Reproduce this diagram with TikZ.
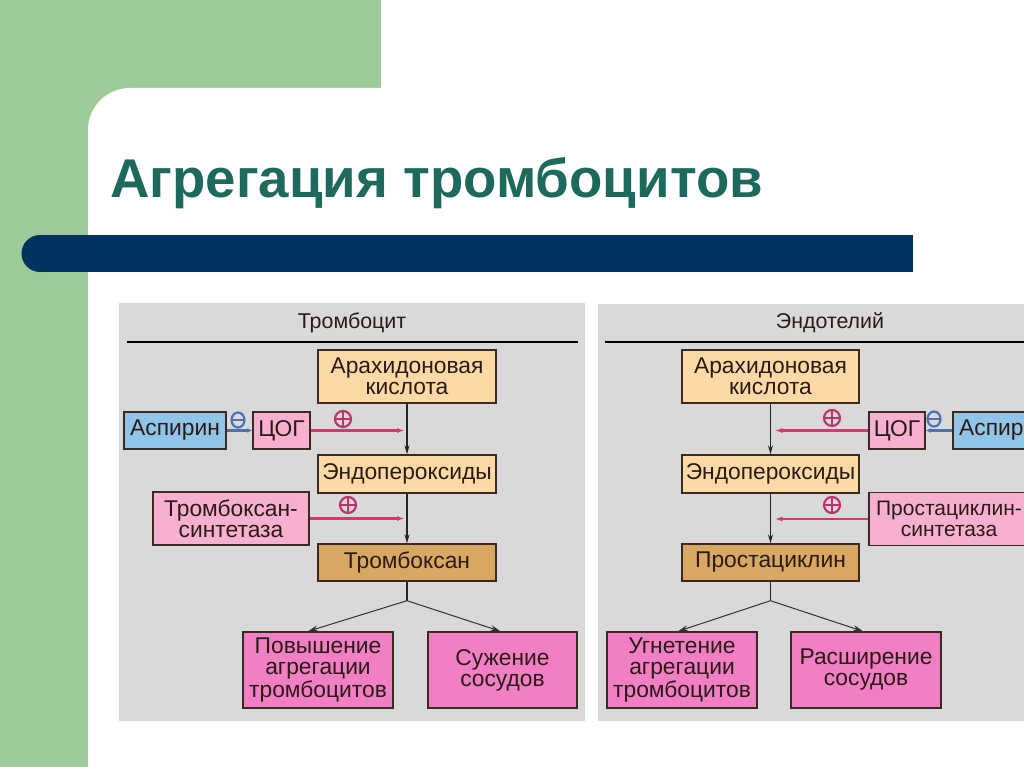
\documentclass[tikz,border=0pt]{standalone}
\usepackage{fontspec}
\setmainfont{Liberation Sans}
\usetikzlibrary{arrows.meta,calc,shapes.geometric}
\definecolor{greenbg}{HTML}{9CCB98}
\definecolor{titlec}{HTML}{1D6A5C}
\definecolor{navy}{HTML}{00335F}
\definecolor{panel}{HTML}{D9D9D9}
\definecolor{peach}{HTML}{FDD9A5}
\definecolor{tan}{HTML}{D8A762}
\definecolor{blueb}{HTML}{90C4E9}
\definecolor{pinkl}{HTML}{F7B0D0}
\definecolor{pinkh}{HTML}{F27EC3}
\definecolor{redc}{HTML}{D03A70}
\definecolor{plusc}{HTML}{C2336E}
\definecolor{minusc}{HTML}{4C72B4}
\definecolor{boxline}{HTML}{3A2A22}
\definecolor{txt}{HTML}{2B1B17}
\tikzset{
  box/.style={draw=boxline, line width=1.4pt, align=center, inner sep=0pt,
    font=\fontsize{22.8}{21}\selectfont, text=txt},
  header/.style={font=\fontsize{21.4}{23}\selectfont, text=txt, inner sep=0pt},
  blackarrow/.style={draw=black!85, line width=1.2pt, -{Stealth[length=9pt,width=5pt]}},
  thinarrow/.style={draw=black!80, line width=1pt, -{Stealth[length=10pt,width=6pt]}},
  redarrow/.style={draw=redc, line width=2.6pt, -{Latex[length=8pt,width=5pt]}},
  bluearrow/.style={draw=minusc, line width=2.4pt, -{Latex[length=5pt,width=5pt]}},
  plussign/.style={circle, draw=plusc, line width=2.2pt, minimum size=16pt, inner sep=0pt,
    path picture={\draw[plusc, line width=2.2pt]
      (path picture bounding box.north) -- (path picture bounding box.south)
      (path picture bounding box.west) -- (path picture bounding box.east);}},
  minussign/.style={ellipse, draw=minusc, line width=2.2pt, minimum width=13pt, minimum height=15pt, inner sep=0pt,
    path picture={\draw[minusc, line width=2.2pt]
      (path picture bounding box.west) -- (path picture bounding box.east);}},
}
\begin{document}
\begin{tikzpicture}[x=1pt,y=-1pt]
\useasboundingbox (0,0) rectangle (1024,767);
\begin{scope}
\clip (0,0) rectangle (1024,767);
% background
\fill[white] (0,0) rectangle (1024,767);
\fill[greenbg] (0,0) rectangle (381,140);
\fill[greenbg] (0,0) rectangle (88,767);
\fill[white] (88,800) [rounded corners=42pt] -- (88,88) -- (1060,88) [sharp corners] -- (1060,800) -- cycle;
% title
\node[anchor=base west, inner sep=0pt, text=titlec, font=\fontsize{54.6}{60}\selectfont\bfseries] (title) at (110,198) {Агрегация тромбоцитов};
% navy bar
\fill[navy] (40,235) rectangle (913,272);
\fill[navy] (40,253.5) circle (18.5);
% panels
\fill[panel] (119,303) rectangle (585,721);
\fill[panel] (598,304) rectangle (1040,721);
\node[header] (hL) at (352,323) {Тромбоцит};
\node[header] (hR) at (830,323) {Эндотелий};
\draw[black, line width=2pt] (127,342) -- (578,342);
\draw[black, line width=2pt] (605,342) -- (1030,342);

% left boxes
\node[box, fill=peach, minimum width=178pt, minimum height=53pt] (arachL) at (407,376.5) {Арахидоновая\\кислота};
\node[box, fill=peach, minimum width=178pt, minimum height=38pt] (endoL) at (407,474) {Эндопероксиды};
\node[box, fill=tan, minimum width=178pt, minimum height=37pt] (thromb) at (407,562.5) {Тромбоксан};
\node[box, fill=blueb, minimum width=102pt, minimum height=37pt] (aspL) at (175,430.5) {Аспирин};
\node[box, fill=pinkl, minimum width=57pt, minimum height=37pt] (cogL) at (281.5,430.5) {ЦОГ};
\node[box, fill=pinkl, minimum width=156pt, minimum height=53pt] (tsynth) at (231,518.5) {Тромбоксан-\\синтетаза};
\node[box, fill=pinkh, minimum width=150pt, minimum height=76pt] (pov) at (318,670) {Повышение\\агрегации\\тромбоцитов};
\node[box, fill=pinkh, minimum width=149pt, minimum height=76pt] (suz) at (502.5,670) {Сужение\\сосудов};

% right boxes
\node[box, fill=peach, minimum width=177pt, minimum height=53pt] (arachR) at (770.5,376.5) {Арахидоновая\\кислота};
\node[box, fill=peach, minimum width=177pt, minimum height=38pt] (endoR) at (770.5,474) {Эндопероксиды};
\node[box, fill=tan, minimum width=177pt, minimum height=37pt] (prost) at (770.5,562.5) {Простациклин};
\node[box, fill=pinkl, minimum width=56pt, minimum height=37pt] (cogR) at (897,430.5) {ЦОГ};
\node[box, fill=blueb, minimum width=102pt, minimum height=37pt] (aspR) at (1004,430.5) {Аспирин};
\node[box, fill=pinkl, minimum width=160pt, minimum height=53pt, font=\fontsize{21}{21}\selectfont] (psynth) at (949,519) {Простациклин-\\синтетаза};
\node[box, fill=pinkh, minimum width=150pt, minimum height=76pt] (ugn) at (682,670) {Угнетение\\агрегации\\тромбоцитов};
\node[box, fill=pinkh, minimum width=150pt, minimum height=76pt] (rasch) at (866,670) {Расширение\\сосудов};

% left connectors
\draw[blackarrow] (arachL) -- (endoL);
\draw[blackarrow] (endoL) -- (thromb);
\coordinate (brL) at ($(thromb.south)+(0,19)$);
\draw[black!85, line width=1.2pt] (thromb.south) -- (brL);
\draw[thinarrow] (brL) -- ($(pov.north)+(-10,0)$);
\draw[thinarrow] (brL) -- ($(suz.north)+(-2,0)$);
\draw[redarrow] (cogL.east) -- ($(cogL.east -| arachL.south)+(-2,0)$);
\draw[redarrow] (tsynth.east) -- ($(tsynth.east -| arachL.south)+(-2,0)$);
\draw[bluearrow] (aspL.east) -- (cogL.west);
\node[plussign] (pL1) at (343,419) {};
\node[plussign] (pL2) at (348,505) {};
\node[minussign] (mL) at (238,420) {};

% right connectors
\draw[blackarrow] (arachR) -- (endoR);
\draw[blackarrow] (endoR) -- (prost);
\coordinate (brR) at ($(prost.south)+(0,19)$);
\draw[black!85, line width=1.2pt] (prost.south) -- (brR);
\draw[thinarrow] (brR) -- ($(ugn.north)+(-4,0)$);
\draw[thinarrow] (brR) -- ($(rasch.north)+(-3,0)$);
\draw[redarrow] (cogR.west) -- ($(cogR.west -| arachR.south)+(4,0)$);
\draw[redarrow] (psynth.west) -- ($(psynth.west -| arachR.south)+(4,0)$);
\draw[bluearrow] (aspR.west) -- (cogR.east);
\node[plussign] (pR1) at (832,418) {};
\node[plussign] (pR2) at (832,505) {};
\node[minussign] (mR) at (934,419) {};
\end{scope}
\end{tikzpicture}
\end{document}
